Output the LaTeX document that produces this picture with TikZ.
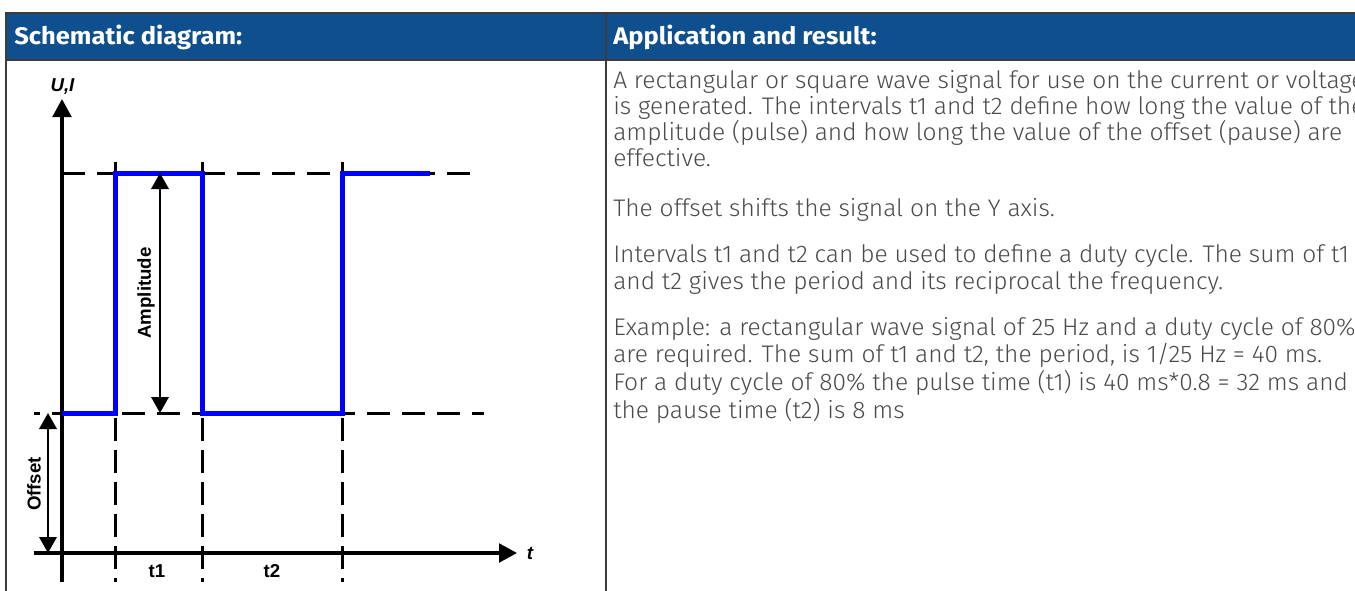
\documentclass[tikz,border=0pt]{standalone}
\usepackage{fontspec}
\usepackage{graphicx}
\setmainfont{Liberation Sans}
\newfontfamily\bodyfont{Fira Sans Light}
\newfontfamily\headfont{Fira Sans}
\usetikzlibrary{arrows.meta}
\definecolor{headblue}{HTML}{0F4F8D}
\definecolor{bordergray}{HTML}{3C3C3C}
\definecolor{textgray}{HTML}{4A4A4A}
\definecolor{sigblue}{HTML}{0000FF}
\newlength\myreflen
\newcommand\bodyline[1]{\scalebox{\bodyscale}[1]{#1}}
\newcommand\headline[1]{\scalebox{\headscale}[1]{#1}}
\begin{document}
\settowidth\myreflen{\bodyfont\fontsize{18pt}{20pt}\selectfont and t2 gives the period and its reciprocal the frequency.}%
\pgfmathsetmacro\bodyscale{457.5/\myreflen}%
\settowidth\myreflen{\headfont\bfseries\fontsize{18pt}{20pt}\selectfont Schematic diagram:}%
\pgfmathsetmacro\headscale{171/\myreflen}%
\begin{tikzpicture}[x=0.75pt,y=-0.75pt,
  border/.style={draw=bordergray,line width=1.5pt},
  hdash/.style={line width=2.25pt,dash pattern=on 17.25pt off 9pt},
  vdash/.style={line width=2.25pt,dash pattern=on 17.25pt off 6.75pt},
  axisline/.style={line width=2.4pt,-{Triangle[length=13.5pt,width=14pt]}},
  dimarrow/.style={line width=1.9pt,{Triangle[length=12pt,width=13pt]}-{Triangle[length=12pt,width=13pt]}},
  signal/.style={draw=sigblue,line width=3.75pt,line join=miter},
  lbl/.style={font=\fontsize{14pt}{16pt}\selectfont\bfseries,inner sep=0pt},
  ilbl/.style={font=\fontsize{14pt}{16pt}\selectfont\bfseries\itshape,inner sep=0pt},
  bodytext/.style={text=textgray,inner sep=0pt,anchor=base west,font=\bodyfont\fontsize{18pt}{20pt}\selectfont},
  headtext/.style={text=white,inner sep=0pt,anchor=base west,font=\headfont\bfseries\fontsize{18pt}{20pt}\selectfont}
]
\useasboundingbox (0,0) rectangle (1355,590);
\clip (0,0) rectangle (1355,590);
\fill[white] (0,0) rectangle (1355,590);
% table
\fill[headblue] (6,13) rectangle (1370,60);
\draw[border] (1370,13) -- (6,13) -- (6,600);
\draw[border] (6,60) -- (1370,60);
\draw[border] (606,13) -- (606,600);
\node[headtext] (h1) at (14,44) {\headline{Schematic diagram:}};
\node[headtext] (h2) at (613,44) {\headline{Application and result:}};
% coordinates
\coordinate (yb) at (62,582); \coordinate (yt) at (62,99);
\coordinate (xl) at (34,553); \coordinate (xr) at (517,553);
\coordinate (hu1) at (62,173); \coordinate (hu2) at (478,173);
\coordinate (hl1) at (34,413); \coordinate (hl2) at (484,413);
\coordinate (v1t) at (115,162); \coordinate (v1b) at (115,582);
\coordinate (v2t) at (202.5,162); \coordinate (v2b) at (202.5,582);
\coordinate (v3t) at (342,162); \coordinate (v3b) at (342,582);
\coordinate (s0) at (62,413); \coordinate (s1) at (115,413);
\coordinate (s2) at (115,173); \coordinate (s3) at (202.5,173);
\coordinate (s4) at (202.5,413); \coordinate (s5) at (342,413);
\coordinate (s6) at (342,173); \coordinate (s7) at (430,173);
\coordinate (a1) at (160,173); \coordinate (a2) at (160,413);
\coordinate (o1) at (48,413); \coordinate (o2) at (48,553);
% dashed guides
\draw[hdash] (hu1) -- (hu2);
\draw[hdash,dash phase=12.75pt] (hl1) -- (hl2);
\draw[vdash] (v1t) -- (v1b);
\draw[vdash] (v2t) -- (v2b);
\draw[vdash] (v3t) -- (v3b);
% axes
\draw[axisline] (yb) -- (yt);
\draw[axisline] (xl) -- (xr);
% signal
\draw[signal] (s0) -- (s1) -- (s2) -- (s3) -- (s4) -- (s5) -- (s6) -- (s7);
% dimension arrows
\draw[dimarrow] (a1) -- (a2);
\draw[dimarrow] (o1) -- (o2);
% labels
\node[ilbl] (ui) at (62.5,87) {U,I};
\node[ilbl] (tl) at (530,553) {t};
\node[lbl] (t1) at (157,571) {t1};
\node[lbl] (t2) at (272,571) {t2};
\node[lbl,rotate=90] (amp) at (146,293) {Amplitude};
\node[lbl,rotate=90] (off) at (34,484) {Offset};
% body text
\node[bodytext] (l1) at (613,88) {\bodyline{A rectangular or square wave signal for use on the current or voltage}};
\node[bodytext] (l2) at (613,114) {\bodyline{is generated. The intervals t1 and t2 define how long the value of the}};
\node[bodytext] (l3) at (613,140) {\bodyline{amplitude (pulse) and how long the value of the offset (pause) are}};
\node[bodytext] (l4) at (613,166) {\bodyline{effective.}};
\node[bodytext] (l5) at (613,216) {\bodyline{The offset shifts the signal on the Y axis.}};
\node[bodytext] (l6) at (613,262) {\bodyline{Intervals t1 and t2 can be used to define a duty cycle. The sum of t1}};
\node[bodytext] (l7) at (613,289) {\bodyline{and t2 gives the period and its reciprocal the frequency.}};
\node[bodytext] (l8) at (613,335) {\bodyline{Example: a rectangular wave signal of 25 Hz and a duty cycle of 80\%}};
\node[bodytext] (l9) at (613,362) {\bodyline{are required. The sum of t1 and t2, the period, is 1/25 Hz = 40 ms.}};
\node[bodytext] (l10) at (613,390) {\bodyline{For a duty cycle of 80\% the pulse time (t1) is 40 ms*0.8 = 32 ms and}};
\node[bodytext] (l11) at (613,418) {\bodyline{the pause time (t2) is 8 ms}};
\end{tikzpicture}
\end{document}
